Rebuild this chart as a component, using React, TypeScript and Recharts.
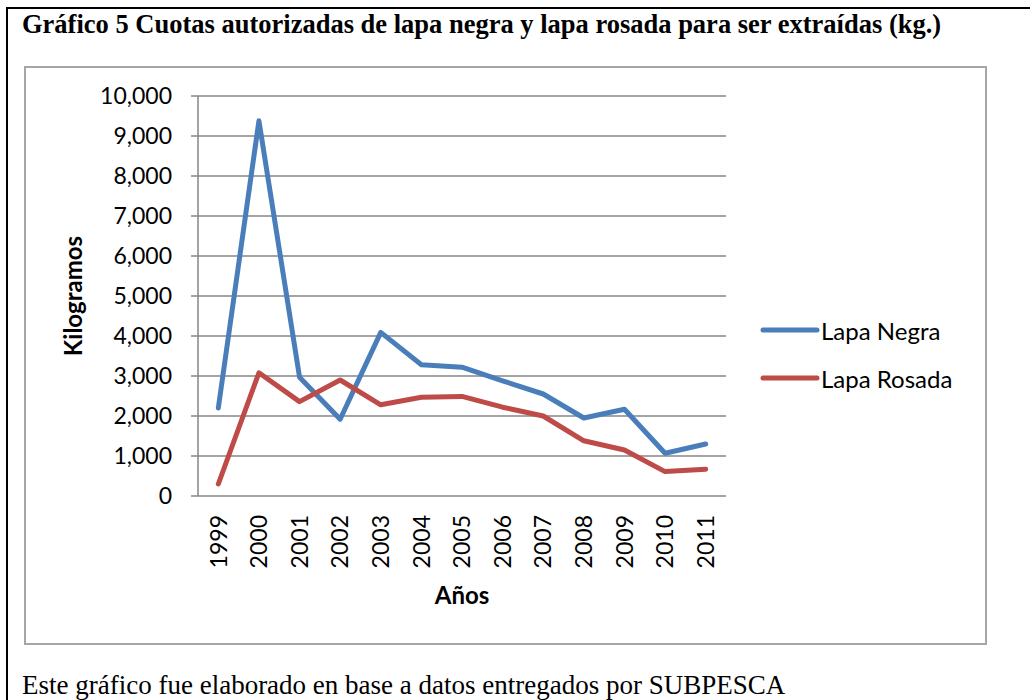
import { LineChart, Line, XAxis, YAxis, CartesianGrid, Legend } from 'recharts'

const YEARS = ['1999', '2000', '2001', '2002', '2003', '2004', '2005', '2006', '2007', '2008', '2009', '2010', '2011']
const LAPA_NEGRA = [2200, 9380, 2970, 1920, 4090, 3280, 3220, 2880, 2550, 1950, 2170, 1070, 1300]
const LAPA_ROSADA = [300, 3080, 2360, 2900, 2280, 2470, 2490, 2220, 2000, 1380, 1150, 610, 670]
const Y_TICKS = [0, 1000, 2000, 3000, 4000, 5000, 6000, 7000, 8000, 9000, 10000]
const SERIES = [
  { key: 'negra', name: 'Lapa Negra', color: '#4a7ebb' },
  { key: 'rosada', name: 'Lapa Rosada', color: '#be4b48' },
]

const data = YEARS.map((y, i) => ({ i, year: y, negra: LAPA_NEGRA[i], rosada: LAPA_ROSADA[i] }))
// tick marks sit between categories, like the original spreadsheet chart
const BOUNDS = YEARS.map((_, i) => i - 0.5).concat(YEARS.length - 0.5)

const FONT = 'Lato, "Noto Sans", sans-serif'
const SERIF = '"Liberation Serif", "Times New Roman", serif'
const GRID = '#868686'

const YearTick = (p: any) => (
  <text x={p.x} y={p.y} transform={`rotate(-90, ${p.x}, ${p.y})`} textAnchor="end" dy="0.36em"
    fontFamily={FONT} fontSize={23} fill="#000">
    {YEARS[p.payload.value]}
  </text>
)

const LegendBox = () => (
  <div style={{ fontFamily: FONT, fontSize: 24, color: '#000' }}>
    {SERIES.map(s => (
      <div key={s.key} style={{ display: 'flex', alignItems: 'center', height: 48, whiteSpace: 'nowrap' }}>
        <svg width={60} height={10} style={{ marginRight: 1 }}>
          <line x1={3} y1={5} x2={57} y2={5} stroke={s.color} strokeWidth={5} strokeLinecap="round" />
        </svg>
        <span>{s.name}</span>
      </div>
    ))}
  </div>
)

export default function App() {
  return (
    <div style={{ position: 'absolute', left: 0, top: 0, width: 1030, height: 700, overflow: 'hidden', background: '#fff' }}>
      <div style={{ position: 'absolute', left: 6, top: 7, width: 1060, height: 740, border: '2px solid #000' }} />
      <div style={{ position: 'absolute', left: 22, top: 9, fontFamily: SERIF, fontWeight: 700, fontSize: 26.5, whiteSpace: 'nowrap' }}>
        Gráfico 5 Cuotas autorizadas de lapa negra y lapa rosada para ser extraídas (kg.)
      </div>
      <div style={{ position: 'absolute', left: 24, top: 66, width: 959, height: 575, border: '2px solid #a6a6a6' }} />
      <div style={{ position: 'absolute', left: 0, top: 0 }}>
        <LineChart width={1030} height={700} data={data} margin={{ left: 68, right: 104, top: 96, bottom: 94 }}>
          <CartesianGrid vertical={false} stroke={GRID} strokeWidth={1.5} />
          <XAxis xAxisId="b" type="number" dataKey="i" domain={[-0.5, YEARS.length - 0.5]} ticks={BOUNDS}
            height={0} tick={false} tickSize={7} tickLine={{ stroke: GRID, strokeWidth: 1.5 }} axisLine={{ stroke: GRID, strokeWidth: 1.5 }} />
          <XAxis xAxisId="l" type="number" dataKey="i" domain={[-0.5, YEARS.length - 0.5]} ticks={YEARS.map((_, i) => i)}
            height={110} tick={<YearTick />} tickSize={0} tickMargin={19} tickLine={false} axisLine={false}
            label={{ value: 'Años', position: 'insideBottom', offset: 2, style: { fontFamily: FONT, fontSize: 24, fontWeight: 700, fill: '#000' } }} />
          <YAxis domain={[0, 10000]} ticks={Y_TICKS} width={130} tickSize={7} tickMargin={19}
            tickFormatter={(v: number) => v.toLocaleString('en-US')}
            tick={{ fontFamily: FONT, fontSize: 23, fill: '#000' }}
            tickLine={{ stroke: GRID, strokeWidth: 1.5 }} axisLine={{ stroke: GRID, strokeWidth: 1.5 }}
            label={{ value: 'Kilogramos', angle: -90, position: 'insideLeft', offset: 5, style: { textAnchor: 'middle', fontFamily: FONT, fontSize: 24, fontWeight: 700, fill: '#000' } }} />
          <Legend layout="vertical" align="right" verticalAlign="middle" content={<LegendBox />}
            wrapperStyle={{ width: 200, left: 760, top: 306 }} />
          {SERIES.map(s => (
            <Line key={s.key} xAxisId="b" dataKey={s.key} name={s.name} stroke={s.color} strokeWidth={5}
              dot={false} strokeLinejoin="round" strokeLinecap="round" isAnimationActive={false} />
          ))}
        </LineChart>
      </div>
      <div style={{ position: 'absolute', left: 22, top: 670, fontFamily: SERIF, fontSize: 27, whiteSpace: 'nowrap' }}>
        Este gráfico fue elaborado en base a datos entregados por SUBPESCA
      </div>
    </div>
  )
}
